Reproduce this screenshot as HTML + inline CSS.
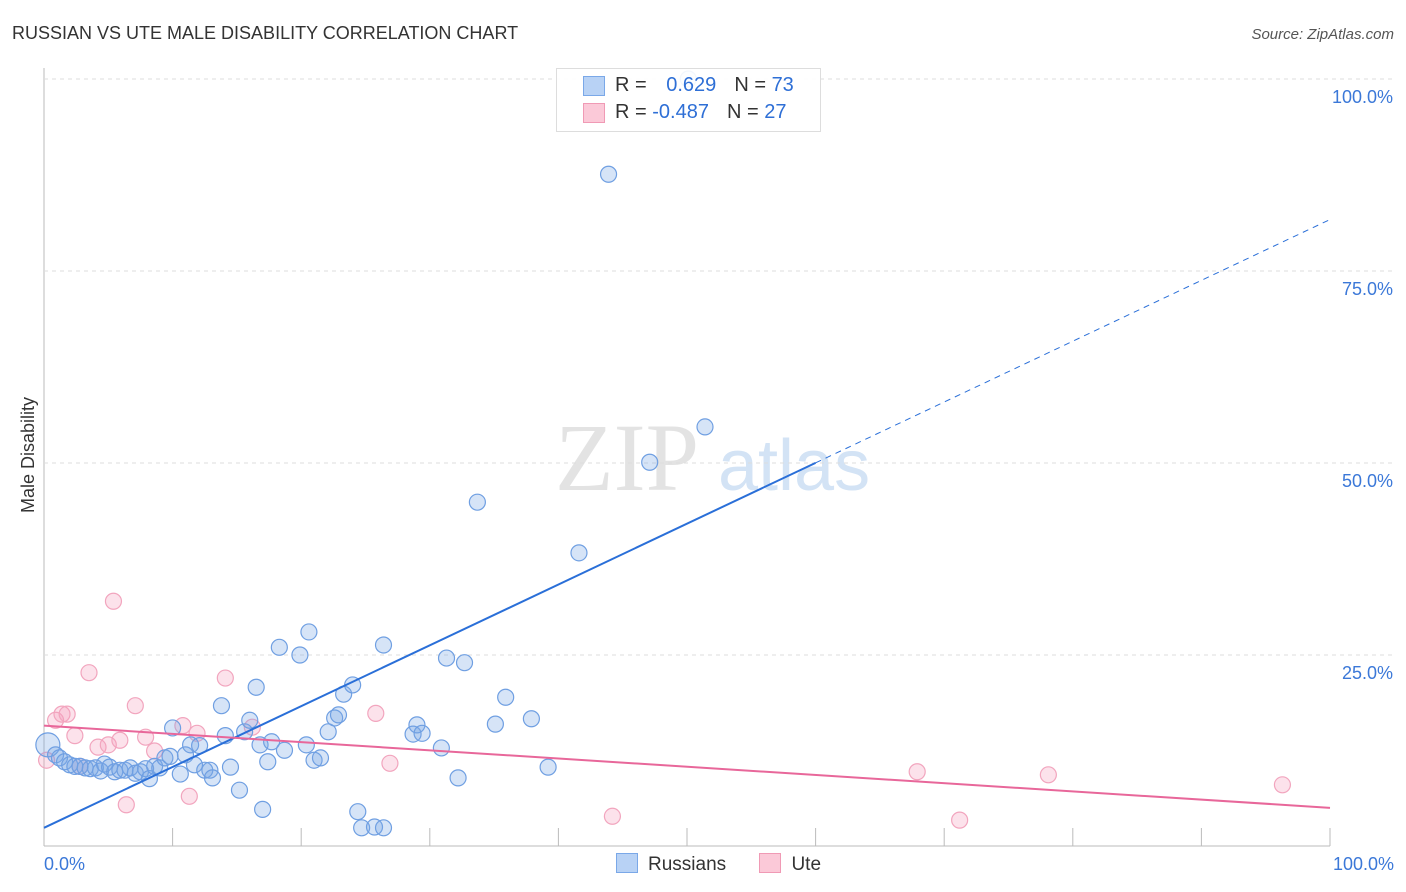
<!DOCTYPE html>
<html><head><meta charset="utf-8"><style>
body{margin:0;background:#fff;font-family:"Liberation Sans",sans-serif}
#wrap{position:relative;width:1406px;height:892px;overflow:hidden}
</style></head><body>
<div id="wrap">
<svg id="svg" width="1406" height="892">
<text x="12" y="39" font-size="18" fill="#333">RUSSIAN VS UTE MALE DISABILITY CORRELATION CHART</text>
<text x="1394" y="39" font-size="15" fill="#555" font-style="italic" text-anchor="end">Source: ZipAtlas.com</text>
<text transform="translate(34,455) rotate(-90)" font-size="18" fill="#333" text-anchor="middle">Male Disability</text>
<g><text x="555" y="490" font-size="96" fill="#e3e3e3" font-family="Liberation Serif,serif">ZIP</text><text x="718" y="490" font-size="72" fill="#d3e3f5">atlas</text></g>
<g id="grid"></g><g id="marks"></g>
</svg>
<div style="position:absolute;left:556px;top:68px;width:263px;height:62px;border:1px solid #ddd;background:rgba(255,255,255,0.9);font-size:20px;color:#333">
<div style="position:absolute;left:26px;top:7px;width:20px;height:18px;background:#b8d2f5;border:1px solid #7aa8e8"></div>
<div style="position:absolute;left:58px;top:5px">R = <span style="color:#2e6fd6;margin-left:14px">0.629</span><span style="margin-left:18px">N = </span><span style="color:#2e6fd6">73</span></div>
<div style="position:absolute;left:26px;top:34px;width:20px;height:18px;background:#fbc9d8;border:1px solid #f09ab5"></div>
<div style="position:absolute;left:58px;top:32px">R = <span style="color:#2e6fd6">-0.487</span><span style="margin-left:18px">N = </span><span style="color:#2e6fd6">27</span></div>
</div>
<div style="position:absolute;top:853px;left:616px;font-size:19px;color:#333">
<span><span style="display:inline-block;width:20px;height:18px;background:#b8d2f5;border:1px solid #7aa8e8;vertical-align:-3px;margin-right:10px"></span>Russians</span>
<span style="margin-left:28px"><span style="display:inline-block;width:20px;height:18px;background:#fbc9d8;border:1px solid #f09ab5;vertical-align:-3px;margin-right:10px"></span>Ute</span>
</div>
</div>
<script>
const blueX=[0.3,0.9,1.2,1.6,2.0,2.4,2.8,3.2,3.6,4.0,4.4,4.7,5.1,5.5,5.9,6.3,6.7,7.1,7.5,7.9,8.2,8.6,9.0,9.4,9.8,10.0,10.6,11.0,11.4,11.7,12.1,12.5,12.9,13.1,13.8,14.1,14.5,15.2,15.6,16.0,16.5,16.8,17.0,17.4,17.7,18.3,18.7,19.9,20.4,20.6,21.0,21.5,22.1,22.6,22.9,23.3,24.0,24.4,24.7,25.7,26.4,26.4,28.7,29.0,29.4,30.9,31.3,32.2,32.7,33.7,35.1,35.9,37.9,39.2,41.6,43.9,47.1,51.4,50.1];
const blueY=[13.3,12.0,11.6,11.1,10.7,10.5,10.5,10.3,10.2,10.3,9.9,10.8,10.4,9.8,10.0,10.0,10.3,9.6,9.8,10.2,8.9,10.5,10.3,11.6,11.8,15.5,9.5,12.0,13.3,10.7,13.2,10.0,10.0,9.0,18.4,14.5,10.4,7.4,15.0,16.5,20.8,13.3,4.9,11.1,13.7,26.0,12.6,25.0,13.3,28.0,11.3,11.6,15.0,16.8,17.2,19.9,21.1,4.6,2.5,2.6,26.3,2.5,14.7,15.9,14.8,12.9,24.6,9.0,24.0,44.9,16.0,19.5,16.7,10.4,38.3,87.6,50.1,54.7,100.0];
const pinkX=[0.2,0.9,1.4,1.8,2.4,2.8,3.5,4.2,5.0,5.4,5.9,6.4,7.1,7.9,8.6,10.8,11.3,11.9,14.1,16.2,25.8,26.9,44.2,67.9,71.2,78.1,96.3];
const pinkY=[11.3,16.5,17.3,17.3,14.5,10.5,22.7,13.0,13.3,32.0,13.9,5.5,18.4,14.3,12.5,15.8,6.6,14.8,22.0,15.6,17.4,10.9,4.0,9.8,3.5,9.4,8.1];
const yTicks=[25,50,75,100];
const xTickVals=[0,10,20,30,40,50,60,70,80,90,100];
const blueTrend=[2.5,81.7]; // at x=0,100
const pinkTrend=[15.8,5.1];
const X=v=>44+v*12.86, Y=v=>847-v*7.68;
const NS='http://www.w3.org/2000/svg';
const grid=document.getElementById('grid'), marks=document.getElementById('marks');
function mk(p,tag,a){const e=document.createElementNS(NS,tag);for(const k in a)e.setAttribute(k,a[k]);p.appendChild(e);return e;}
const ax=mk(grid,'line',{x1:44,y1:68,x2:44,y2:846,stroke:'#bbb'});


const bx=mk(grid,'line',{x1:44,y1:846,x2:1330,y2:846,stroke:'#bbb'});


yTicks.forEach(t=>{
 const g=mk(grid,'line',{x1:44,x2:1394,y1:Y(t),y2:Y(t),stroke:'#ddd','stroke-dasharray':'4,4'});
 
 
 const l=mk(grid,'text',{x:1393,y:Y(t)+24,'font-size':18,fill:'#3b78d8','text-anchor':'end'});l.textContent=t.toFixed(1)+'%';
 
 
});
xTickVals.forEach(t=>{if(t>0){const m=mk(grid,'line',{x1:X(t),x2:X(t),y1:828,y2:846,stroke:'#bbb'});
 
 }});
[[0,'start',44],[100,'end',1394]].forEach(([v,a,x])=>{const l=mk(grid,'text',{x:x,y:870,'font-size':18,fill:'#3b78d8','text-anchor':a});l.textContent=v.toFixed(1)+'%';
 
 });
pinkX.forEach((v,i)=>{const c=mk(marks,'circle',{cx:X(v),cy:Y(pinkY[i]),r:8,fill:'rgba(244,160,188,0.3)',stroke:'#f2a5be','stroke-width':1.2});
 
 });
blueX.forEach((v,i)=>{const c=mk(marks,'circle',{cx:X(v),cy:Y(blueY[i]),r:i==0?12:8,fill:'rgba(120,165,230,0.3)',stroke:'#6f9fe2','stroke-width':1.2});
 
 });
const bs=v=>blueTrend[0]+(blueTrend[1]-blueTrend[0])*v/100;
const t1=mk(marks,'line',{x1:X(0),y1:Y(bs(0)),x2:X(60),y2:Y(bs(60)),stroke:'#2a6fd8','stroke-width':2});


const t2=mk(marks,'line',{x1:X(60),y1:Y(bs(60)),x2:X(100),y2:Y(bs(100)),stroke:'#2a6fd8','stroke-width':1,'stroke-dasharray':'6,5'});


const t3=mk(marks,'line',{x1:X(0),y1:Y(pinkTrend[0]),x2:X(100),y2:Y(pinkTrend[1]),stroke:'#e8679a','stroke-width':2});


</script>
</body></html>
